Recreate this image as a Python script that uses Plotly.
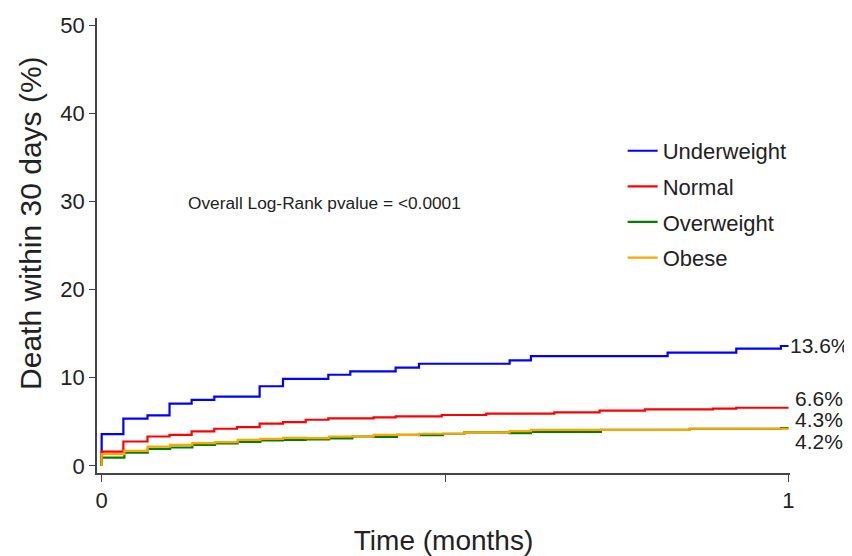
import plotly.graph_objects as go

# Data (time in months, cumulative death %)
under_t = [0, 0, 0.0316, 0.0667, 0.0988, 0.131, 0.164, 0.230, 0.264, 0.330, 0.362, 0.428, 0.462, 0.594, 0.625, 0.824, 0.924, 0.989, 1.0]
under_v = [0, 3.6, 5.36, 5.74, 7.07, 7.49, 7.87, 9.04, 9.88, 10.34, 10.72, 11.14, 11.59, 11.97, 12.46, 12.85, 13.3, 13.6, 13.6]

normal_t = [0, 0, 0.0316, 0.0667, 0.0988, 0.131, 0.164, 0.197, 0.230, 0.264, 0.297, 0.330, 0.396, 0.428, 0.495, 0.560, 0.659, 0.725, 0.791, 0.890, 0.924, 1.0]
normal_v = [0, 1.63, 2.77, 3.34, 3.53, 3.91, 4.22, 4.41, 4.79, 4.98, 5.24, 5.40, 5.51, 5.63, 5.78, 5.93, 6.08, 6.27, 6.42, 6.50, 6.60, 6.60]

over_t = [0, 0, 0.033, 0.067, 0.0997, 0.132, 0.165, 0.198, 0.231, 0.264, 0.297, 0.331, 0.365, 0.396, 0.430, 0.462, 0.497, 0.528, 0.594, 0.625, 0.727, 0.856, 0.989, 1.0]
over_v = [0, 0.95, 1.52, 1.94, 2.09, 2.39, 2.55, 2.74, 2.89, 2.95, 3.00, 3.13, 3.34, 3.30, 3.53, 3.49, 3.65, 3.80, 3.72, 3.87, 4.10, 4.22, 4.30, 4.30]

obese_t = [0, 0, 0.033, 0.067, 0.0997, 0.132, 0.165, 0.198, 0.231, 0.264, 0.297, 0.331, 0.396, 0.462, 0.528, 0.594, 0.625, 0.856, 1.0]
obese_v = [0, 1.33, 1.71, 2.20, 2.39, 2.58, 2.70, 2.96, 3.08, 3.19, 3.15, 3.34, 3.53, 3.65, 3.80, 3.95, 4.10, 4.22, 4.22]

series_names = ["Underweight", "Normal", "Overweight", "Obese"]
series_colors = ["#0000FF", "#FF0000", "#008000", "#FFA500"]
end_labels = ["13.6%", "6.6%", "4.3%", "4.2%"]
end_label_y = [13.7, 7.7, 5.3, 2.8]

x_tickvals = [0, 0.5, 1]
x_ticktext = ["0", "", "1"]
y_tickvals = [0, 10, 20, 30, 40, 50]

FONT = "Liberation Sans, Arial, sans-serif"
TXT = "#222222"

fig = go.Figure()
for t, v, name, col in zip([under_t, normal_t, over_t, obese_t],
                           [under_v, normal_v, over_v, obese_v],
                           series_names, series_colors):
    fig.add_trace(go.Scatter(
        x=t, y=v, mode="lines", name=name, legendgroup=name,
        line=dict(color=col, width=2.2, shape="hv"),
    ))

for i, (lab, ly) in enumerate(zip(end_labels, end_label_y)):
    fig.add_annotation(x=1.0, y=ly, text=lab, showarrow=False,
                       xanchor="left", yanchor="middle", xshift=(0 if i == 0 else 5),
                       font=dict(size=21, color=TXT, family=FONT))

fig.add_annotation(x=0.123, y=29.8, text="Overall Log-Rank pvalue = <0.0001",
                   showarrow=False, xanchor="left", yanchor="middle",
                   font=dict(size=17.3, color=TXT, family=FONT))

# y-axis title (placed as rotated text, slightly above plot-centre as in the reference)
fig.add_annotation(xref="paper", yref="paper", x=-0.095, y=0.55,
                   text="Death within 30 days (%)", textangle=-90, showarrow=False,
                   xanchor="center", yanchor="middle",
                   font=dict(size=30, color=TXT, family=FONT))

# the page body adds an 8px offset; figure is sized so the visible area matches 852x556
fig.update_layout(
    width=844, height=548,
    margin=dict(l=89, r=62, t=10, b=83),
    paper_bgcolor="white", plot_bgcolor="white",
    font=dict(family=FONT, color=TXT),
    showlegend=True,
    legend=dict(x=0.7585, y=0.754, xanchor="left", yanchor="top",
                font=dict(size=22, family=FONT, color=TXT),
                tracegroupgap=4, bgcolor="rgba(0,0,0,0)"),
    xaxis=dict(range=[-0.0068, 1.0022], tickvals=x_tickvals, ticktext=x_ticktext,
               automargin=False,
               showgrid=False, zeroline=False, showline=True,
               linecolor="#444444", linewidth=1.5,
               ticks="outside", ticklen=7, tickcolor="#444444",
               tickfont=dict(size=22, family=FONT, color=TXT),
               title=dict(text="Time (months)", font=dict(size=28, family=FONT, color=TXT),
                          standoff=24)),
    yaxis=dict(range=[-0.8, 50.8], tickvals=y_tickvals,
               automargin=False,
               showgrid=False, zeroline=False, showline=True,
               linecolor="#444444", linewidth=1.5,
               ticks="outside", ticklen=6, tickcolor="#444444",
               tickfont=dict(size=22, family=FONT, color=TXT)),
)

fig.write_html("out.html")
